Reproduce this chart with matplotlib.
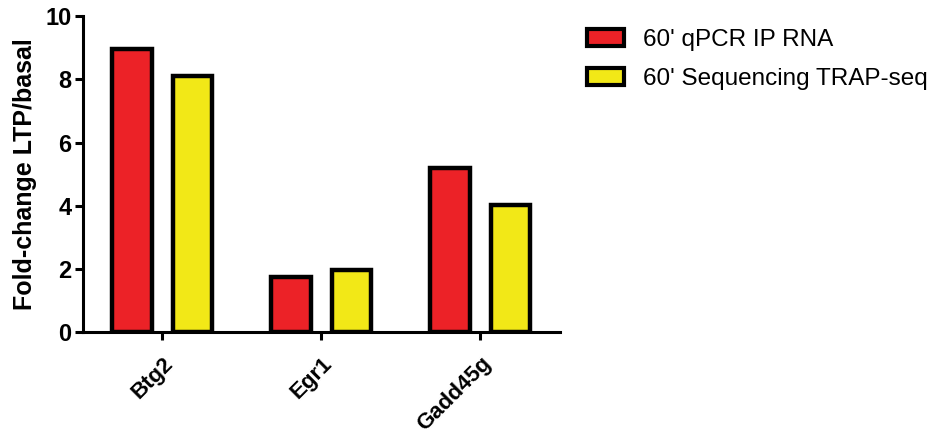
import matplotlib.pyplot as plt
from matplotlib.patches import Patch
import numpy as np

# Data
genes = ["Btg2", "Egr1", "Gadd45g"]
qpcr = [8.95, 1.75, 5.2]
trap = [8.1, 1.97, 4.02]
labels = ["60' qPCR IP RNA", "60' Sequencing TRAP-seq"]
red = "#ec2227"
yellow = "#f2e817"

plt.rcParams['font.family'] = ['Liberation Sans', 'DejaVu Sans']

fig = plt.figure(figsize=(9.52, 4.38), dpi=100)
ax = fig.add_axes([0.087, 0.242, 0.501, 0.721])

x = np.arange(len(genes))
w = 0.25
ax.bar(x - 0.19, qpcr, w, color=red, edgecolor="black", linewidth=3.2)
ax.bar(x + 0.19, trap, w, color=yellow, edgecolor="black", linewidth=3.2)

ax.set_xlim(-0.5, 2.5)
ax.set_ylim(0, 10)
ax.set_yticks([0, 2, 4, 6, 8, 10])
ax.set_xticks(x)
ax.set_xticklabels(genes, rotation=45, ha="right", rotation_mode="anchor",
                   fontsize=16, fontweight="bold")
for t in ax.get_yticklabels():
    t.set_fontsize(17)
    t.set_fontweight("bold")
ax.set_ylabel("Fold-change LTP/basal", fontsize=18, fontweight="bold", labelpad=6)

for s in ["top", "right"]:
    ax.spines[s].set_visible(False)
for s in ["left", "bottom"]:
    ax.spines[s].set_linewidth(2.2)
ax.tick_params(width=2.2, length=6)
ax.tick_params(axis="y", pad=2)
ax.tick_params(axis="x", pad=9)

handles = [Patch(facecolor=red, edgecolor="black", linewidth=3),
           Patch(facecolor=yellow, edgecolor="black", linewidth=3)]
fig.legend(handles, labels, loc="upper left", bbox_to_anchor=(0.617, 0.933),
           frameon=False, fontsize=17.5, handlelength=1.5, handleheight=0.7,
           handletextpad=0.8, labelspacing=0.7, borderpad=0, borderaxespad=0)

fig.savefig("out.png", dpi=100)
